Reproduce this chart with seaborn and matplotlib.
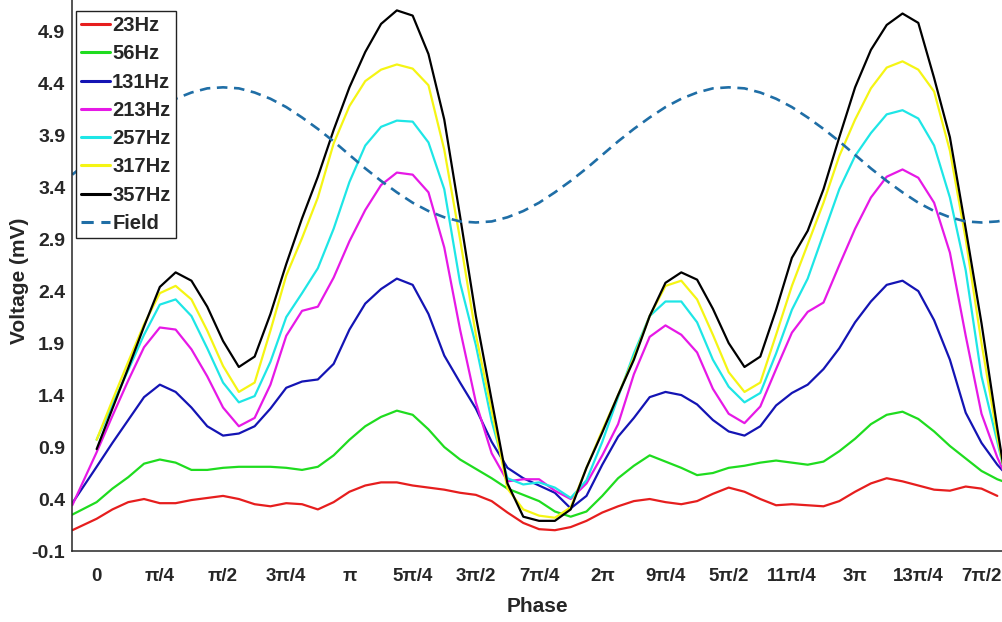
import numpy as np
import pandas as pd
import matplotlib
matplotlib.use("Agg")
import matplotlib.pyplot as plt
import seaborn as sns

# Phase samples in units of pi/16 (first/last points sit on the axis edges)
phase_steps = [-1.54] + list(range(0, 58)) + [57.36]

nan = np.nan
v_23hz = [0.10, 0.21, 0.30, 0.37, 0.40, 0.36, 0.36, 0.39, 0.41, 0.43, 0.40,
          0.35, 0.33, 0.36, 0.35, 0.30, 0.37, 0.47, 0.53, 0.56, 0.56,
          0.53, 0.51, 0.49, 0.46, 0.44, 0.38, 0.27, 0.17, 0.11, 0.10,
          0.13, 0.19, 0.27, 0.33, 0.38, 0.40, 0.37, 0.35, 0.38, 0.45,
          0.51, 0.47, 0.40, 0.34, 0.35, 0.34, 0.33, 0.38, 0.47, 0.55,
          0.60, 0.57, 0.53, 0.49, 0.48, 0.52, 0.50, 0.43, nan]
v_56hz = [0.25, 0.37, 0.50, 0.61, 0.74, 0.78, 0.75, 0.68, 0.68, 0.70, 0.71,
          0.71, 0.71, 0.70, 0.68, 0.71, 0.82, 0.97, 1.10, 1.19, 1.25,
          1.21, 1.07, 0.90, 0.78, 0.69, 0.60, 0.50, 0.44, 0.38, 0.28,
          0.23, 0.28, 0.43, 0.60, 0.72, 0.82, 0.76, 0.70, 0.63, 0.65,
          0.70, 0.72, 0.75, 0.77, 0.75, 0.73, 0.76, 0.86, 0.98, 1.12,
          1.21, 1.24, 1.17, 1.05, 0.91, 0.79, 0.67, 0.59, 0.57]
v_131hz = [0.36, 0.71, 0.94, 1.16, 1.38, 1.50, 1.43, 1.28, 1.10, 1.01, 1.03,
           1.10, 1.27, 1.47, 1.53, 1.55, 1.70, 2.03, 2.28, 2.42, 2.52,
           2.46, 2.18, 1.78, 1.52, 1.27, 0.95, 0.70, 0.60, 0.53, 0.46,
           0.31, 0.43, 0.73, 1.00, 1.18, 1.38, 1.43, 1.40, 1.31, 1.16,
           1.05, 1.01, 1.10, 1.30, 1.42, 1.50, 1.65, 1.85, 2.10, 2.30,
           2.46, 2.50, 2.40, 2.12, 1.74, 1.23, 0.94, 0.73, 0.67]
v_213hz = [0.34, 0.85, 1.20, 1.54, 1.86, 2.05, 2.03, 1.84, 1.58, 1.28, 1.10,
           1.18, 1.50, 1.97, 2.21, 2.25, 2.53, 2.88, 3.18, 3.42, 3.54,
           3.52, 3.35, 2.82, 2.03, 1.33, 0.84, 0.57, 0.59, 0.59, 0.48,
           0.40, 0.55, 0.82, 1.12, 1.60, 1.96, 2.07, 1.98, 1.81, 1.46,
           1.22, 1.13, 1.29, 1.65, 2.00, 2.20, 2.29, 2.65, 3.00, 3.30,
           3.50, 3.57, 3.49, 3.25, 2.77, 1.97, 1.22, 0.80, 0.68]
v_257hz = [nan, 0.97, 1.31, 1.64, 1.98, 2.27, 2.32, 2.16, 1.85, 1.52, 1.33,
           1.39, 1.72, 2.15, 2.38, 2.62, 3.00, 3.45, 3.80, 3.98, 4.04,
           4.03, 3.83, 3.38, 2.48, 1.88, 1.15, 0.60, 0.54, 0.56, 0.51,
           0.41, 0.58, 0.95, 1.38, 1.80, 2.16, 2.30, 2.30, 2.10, 1.74,
           1.48, 1.33, 1.42, 1.80, 2.22, 2.52, 2.95, 3.38, 3.70, 3.92,
           4.10, 4.14, 4.06, 3.80, 3.30, 2.60, 1.58, 0.95, 0.72]
v_317hz = [nan, 0.97, 1.35, 1.72, 2.08, 2.38, 2.45, 2.32, 2.02, 1.68, 1.43,
           1.52, 2.02, 2.55, 2.91, 3.30, 3.82, 4.18, 4.42, 4.53, 4.58,
           4.54, 4.38, 3.76, 2.90, 1.98, 1.25, 0.50, 0.30, 0.24, 0.22,
           0.32, 0.70, 1.06, 1.40, 1.76, 2.16, 2.45, 2.50, 2.32, 1.98,
           1.62, 1.43, 1.52, 1.98, 2.45, 2.85, 3.25, 3.70, 4.05, 4.35,
           4.55, 4.61, 4.53, 4.32, 3.75, 2.90, 1.90, 1.00, 0.73]
v_357hz = [nan, 0.88, 1.27, 1.66, 2.06, 2.44, 2.58, 2.50, 2.25, 1.92, 1.67,
           1.77, 2.18, 2.66, 3.10, 3.50, 3.95, 4.36, 4.70, 4.97, 5.10,
           5.05, 4.68, 4.05, 3.12, 2.16, 1.35, 0.55, 0.23, 0.19, 0.19,
           0.30, 0.70, 1.04, 1.40, 1.74, 2.16, 2.48, 2.58, 2.51, 2.23,
           1.90, 1.67, 1.77, 2.22, 2.72, 2.98, 3.38, 3.88, 4.36, 4.72,
           4.96, 5.07, 4.98, 4.45, 3.88, 3.00, 2.09, 1.08, 0.74]
v_field = [3.52, 3.71, 3.84, 3.96, 4.07, 4.17, 4.25, 4.31, 4.35, 4.36, 4.35,
           4.31, 4.25, 4.17, 4.07, 3.96, 3.84, 3.71, 3.58, 3.46, 3.35,
           3.25, 3.17, 3.11, 3.07, 3.06, 3.07, 3.11, 3.17, 3.25, 3.35,
           3.46, 3.58, 3.71, 3.84, 3.96, 4.07, 4.17, 4.25, 4.31, 4.35,
           4.36, 4.35, 4.31, 4.25, 4.17, 4.07, 3.96, 3.84, 3.71, 3.58,
           3.46, 3.35, 3.25, 3.17, 3.11, 3.07, 3.06, 3.07, 3.08]

series_names = ["23Hz", "56Hz", "131Hz", "213Hz", "257Hz", "317Hz", "357Hz", "Field"]
series_values = [v_23hz, v_56hz, v_131hz, v_213hz, v_257hz, v_317hz, v_357hz, v_field]
series_colors = ["#e61e1e", "#1fdc1f", "#1414b4", "#e619e6", "#1ee6e6",
                 "#f5f514", "#000000", "#1f6ea6"]

xtick_labels = ["0", "π/4", "π/2", "3π/4", "π", "5π/4", "3π/2", "7π/4",
                "2π", "9π/4", "5π/2", "11π/4", "3π", "13π/4", "7π/2"]
ytick_values = [-0.1, 0.4, 0.9, 1.4, 1.9, 2.4, 2.9, 3.4, 3.9, 4.4, 4.9]

phase = np.array(phase_steps) * np.pi / 16
frames = []
for name, vals in zip(series_names, series_values):
    assert len(vals) == len(phase)
    frames.append(pd.DataFrame({"phase": phase, "voltage": vals, "series": name}))
df = pd.concat(frames, ignore_index=True).dropna()

sns.set_style("white")
plt.rcParams["font.family"] = ["Liberation Sans", "DejaVu Sans"]
plt.rcParams["font.weight"] = "bold"

W, H = 1003, 622
fig = plt.figure(figsize=(W / 100, H / 100), dpi=100)
ax = fig.add_axes([72.3 / W, 71 / H, (W - 72.3) / W, 551 / H])

for name, color in zip(series_names, series_colors):
    sub = df[df["series"] == name]
    ls = (0, (4, 2.5)) if name == "Field" else "-"
    lw = 1.9 if name == "Field" else 1.6
    sns.lineplot(data=sub, x="phase", y="voltage", color=color, linewidth=lw,
                 linestyle=ls, estimator=None, sort=False, label=name, ax=ax,
                 solid_joinstyle="round")

ax.set_xlim(phase[0], phase[-1])
ax.set_ylim(-0.1, 5.2)
ax.set_xticks(np.arange(len(xtick_labels)) * np.pi / 4)
ax.set_xticklabels(xtick_labels)
ax.set_yticks(ytick_values)
ax.set_yticklabels([f"{v:.1f}" for v in ytick_values])

dark = "#262626"
ax.tick_params(axis="both", direction="in", length=7, width=1, colors=dark)
ax.tick_params(axis="x", pad=12, labelsize=13.5)
ax.tick_params(axis="y", pad=5, labelsize=14)
for lab in ax.get_xticklabels() + ax.get_yticklabels():
    lab.set_fontweight("bold")

for side in ["top", "right"]:
    ax.spines[side].set_visible(False)
for side in ["left", "bottom"]:
    ax.spines[side].set_color(dark)
    ax.spines[side].set_linewidth(1.1)

ax.set_xlabel("Phase", fontsize=15, fontweight="bold", color=dark)
ax.set_ylabel("Voltage (mV)", fontsize=15, fontweight="bold", color=dark)
ax.xaxis.set_label_coords(0.5, -0.083)
ax.yaxis.set_label_coords(-0.047, 0.49)

leg = ax.legend(loc="upper left", bbox_to_anchor=(76 / W, 1 - 11 / H),
                bbox_transform=fig.transFigure, borderaxespad=0,
                prop={"size": 14.5, "weight": "bold"}, handlelength=1.45,
                handletextpad=0.1, labelspacing=0.46, borderpad=0.25,
                fancybox=False, framealpha=1, edgecolor="#222222")
leg.get_frame().set_linewidth(1.0)
for h in leg.get_lines():
    h.set_linewidth(2.2)

fig.savefig("out.png", dpi=100, facecolor="white")
